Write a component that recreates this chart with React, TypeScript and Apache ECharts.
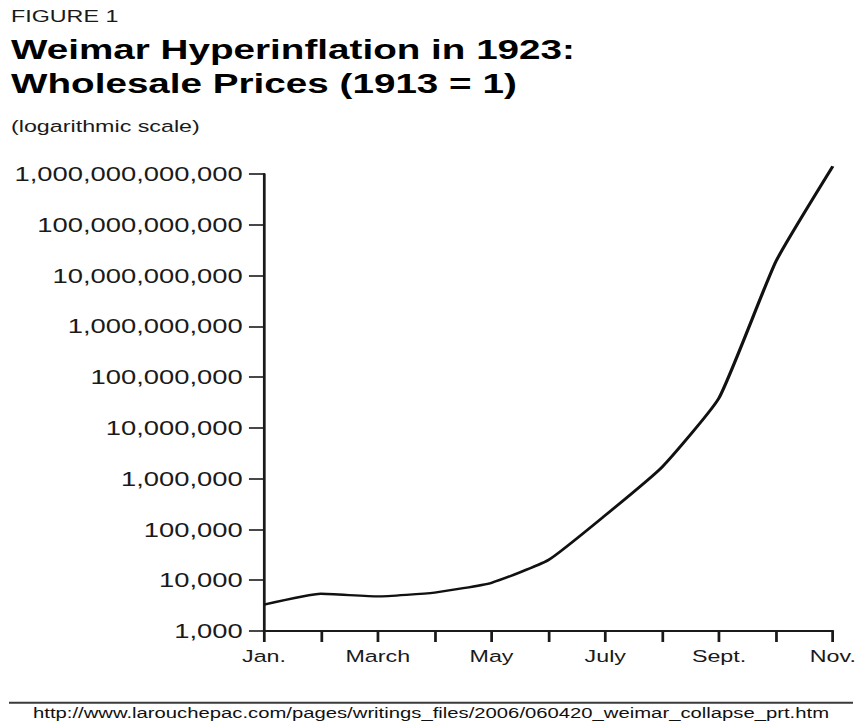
import React, { useEffect, useRef } from "react";
import * as echarts from "echarts";

// ---- data ----
const months = ["Jan.", "Feb.", "March", "April", "May", "June", "July", "Aug.", "Sept.", "Oct.", "Nov."];
const wholesalePrices = [
  3300, 5400, 4800, 5700, 8900, 25000, 190000, 1700000, 39000000, 19000000000, 1420000000000,
];
const yMin = 1000;
const yMax = 1000000000000;

const figureLabel = "FIGURE 1";
const titleLine1 = "Weimar Hyperinflation in 1923:";
const titleLine2 = "Wholesale Prices (1913 = 1)";
const subTitle = "(logarithmic scale)";
const sourceUrl = "http://www.larouchepac.com/pages/writings_files/2006/060420_weimar_collapse_prt.htm";

// The reference is horizontally stretched; render narrower and stretch.
const OUTER_W = 860;
const OUTER_H = 723;
const INNER_W = 628;
const SX = OUTER_W / INNER_W;
const ix = (x: number) => x / SX;

const FONT = "'Liberation Sans', Arial, Helvetica, sans-serif";

function withCommas(v: number): string {
  const n = Math.round(v);
  return String(n).replace(/\B(?=(\d{3})+(?!\d))/g, ",");
}

export default function App() {
  const ref = useRef<HTMLDivElement>(null);

  useEffect(() => {
    if (!ref.current) return;
    const chart = echarts.init(ref.current, undefined, { renderer: "svg" });
    chart.setOption({
      animation: false,
      backgroundColor: "#ffffff",
      textStyle: { fontFamily: FONT },
      grid: {
        left: ix(264),
        right: INNER_W - ix(835),
        top: 174,
        bottom: OUTER_H - 631,
        containLabel: false,
      },
      xAxis: {
        type: "category",
        data: months,
        boundaryGap: false,
        axisLine: { show: true, lineStyle: { color: "#1a1a1a", width: 2 } },
        axisTick: { show: true, interval: 0, length: 11, lineStyle: { color: "#1a1a1a", width: 2 } },
        axisLabel: {
          interval: 1,
          margin: 17,
          fontSize: 17,
          color: "#1a1a1a",
          fontFamily: FONT,
        },
        splitLine: { show: false },
      },
      yAxis: {
        type: "log",
        logBase: 10,
        min: yMin,
        max: yMax,
        splitNumber: 9,
        axisLine: { show: true, lineStyle: { color: "#1a1a1a", width: 2 } },
        axisTick: { show: true, length: 11, lineStyle: { color: "#1a1a1a", width: 1.6 } },
        axisLabel: {
          margin: 15.5,
          fontSize: 20,
          color: "#1a1a1a",
          fontFamily: FONT,
          formatter: (v: number) => withCommas(v),
        },
        splitLine: { show: false },
      },
      series: [
        {
          type: "line",
          data: wholesalePrices,
          symbol: "none",
          smooth: 0.15,
          clip: false,
          lineStyle: { color: "#111111", width: 2.4 },
        },
      ],
      graphic: [
        {
          type: "text",
          x: ix(11),
          y: 16,
          style: {
            text: figureLabel,
            font: `normal 17px ${FONT}`,
            fill: "#1a1a1a",
            verticalAlign: "middle",
            align: "left",
          },
        },
        {
          type: "text",
          x: ix(11),
          y: 50,
          scaleX: 1.045,
          style: {
            text: titleLine1,
            font: `bold 27px ${FONT}`,
            fill: "#000000",
            verticalAlign: "middle",
            align: "left",
          },
        },
        {
          type: "text",
          x: ix(11),
          y: 84,
          scaleX: 1.045,
          style: {
            text: titleLine2,
            font: `bold 27px ${FONT}`,
            fill: "#000000",
            verticalAlign: "middle",
            align: "left",
          },
        },
        {
          type: "text",
          x: ix(11),
          y: 126,
          style: {
            text: subTitle,
            font: `normal 17px ${FONT}`,
            fill: "#1a1a1a",
            verticalAlign: "middle",
            align: "left",
          },
        },
        {
          type: "line",
          shape: { x1: ix(9), y1: 702.7, x2: ix(853), y2: 702.7 },
          style: { stroke: "#3a3a3a", lineWidth: 2 },
        },
        {
          type: "text",
          x: ix(431),
          y: 713,
          style: {
            text: sourceUrl,
            font: `normal 14.8px ${FONT}`,
            fill: "#111111",
            verticalAlign: "middle",
            align: "center",
          },
        },
      ],
    });
    return () => chart.dispose();
  }, []);

  return (
    <div
      style={{
        position: "absolute",
        left: 0,
        top: 0,
        width: OUTER_W,
        height: OUTER_H,
        overflow: "hidden",
        background: "#ffffff",
      }}
    >
      <div
        ref={ref}
        style={{
          width: INNER_W,
          height: OUTER_H,
          transform: `scaleX(${SX})`,
          transformOrigin: "0 0",
        }}
      />
    </div>
  );
}
